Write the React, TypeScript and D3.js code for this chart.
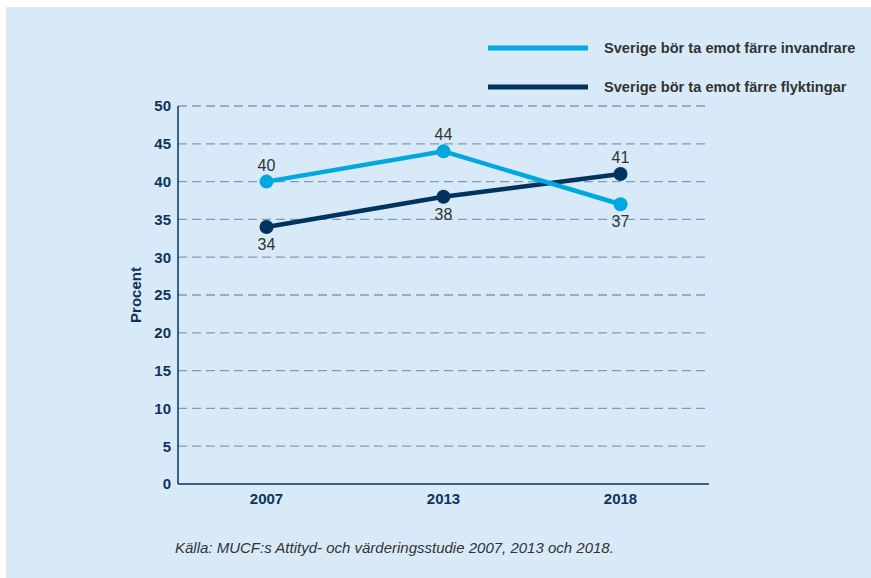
import { useEffect, useRef } from 'react';
import * as d3 from 'd3';

const years = ['2007', '2013', '2018'];
const invandrare = [40, 44, 37];
const flyktingar = [34, 38, 41];
const yTicks = [0, 5, 10, 15, 20, 25, 30, 35, 40, 45, 50];
const seriesNames = ['Sverige bör ta emot färre invandrare', 'Sverige bör ta emot färre flyktingar'];
const source = 'Källa: MUCF:s Attityd- och värderingsstudie 2007, 2013 och 2018.';

const W = 871;
const H = 578;
const LIGHT = '#00a8e1';
const DARK = '#00335e';
const AXIS = '#0d355c';
const TEXT = '#333333';
const FONT = '"Liberation Sans", Arial, sans-serif';

export default function App() {
  const svgRef = useRef<SVGSVGElement>(null);

  useEffect(() => {
    const svg = d3.select(svgRef.current);
    svg.selectAll('*').remove();

    // panel background
    svg.append('rect')
      .attr('x', 6).attr('y', 7)
      .attr('width', W - 6).attr('height', H - 7)
      .attr('fill', '#d8eaf8');

    const left = 178, right = 709, top = 106, bottom = 484;

    const x = d3.scaleBand().domain(years).range([left, right]);
    const y = d3.scaleLinear().domain([0, 50]).range([bottom, top]);
    const cx = (d: string) => x(d)! + x.bandwidth() / 2;

    // dashed grid
    svg.append('g')
      .selectAll('line')
      .data(yTicks.filter(t => t > 0))
      .join('line')
      .attr('x1', left).attr('x2', right)
      .attr('y1', d => y(d)).attr('y2', d => y(d))
      .attr('stroke', '#7d9bbb')
      .attr('stroke-width', 1.3)
      .attr('stroke-dasharray', '9,5');

    // axes
    svg.append('line')
      .attr('x1', left).attr('x2', left)
      .attr('y1', top).attr('y2', bottom)
      .attr('stroke', AXIS).attr('stroke-width', 1.5);
    svg.append('line')
      .attr('x1', left).attr('x2', right)
      .attr('y1', bottom).attr('y2', bottom)
      .attr('stroke', AXIS).attr('stroke-width', 1.5);

    svg.append('g')
      .selectAll('text')
      .data(yTicks)
      .join('text')
      .attr('x', left - 7)
      .attr('y', d => y(d))
      .attr('dy', '0.36em')
      .attr('text-anchor', 'end')
      .attr('font-family', FONT)
      .attr('font-weight', 'bold')
      .attr('font-size', 15)
      .attr('fill', AXIS)
      .text(d => d);

    svg.append('g')
      .selectAll('text')
      .data(years)
      .join('text')
      .attr('x', d => cx(d))
      .attr('y', bottom + 20)
      .attr('text-anchor', 'middle')
      .attr('font-family', FONT)
      .attr('font-weight', 'bold')
      .attr('font-size', 15)
      .attr('fill', AXIS)
      .text(d => d);

    svg.append('text')
      .attr('transform', `translate(141, ${(top + bottom) / 2}) rotate(-90)`)
      .attr('text-anchor', 'middle')
      .attr('font-family', FONT)
      .attr('font-weight', 'bold')
      .attr('font-size', 15)
      .attr('fill', AXIS)
      .text('Procent');

    const line = d3.line<number>()
      .x((_, i) => cx(years[i]))
      .y(d => y(d));

    const series = [
      { values: flyktingar, color: DARK, above: [false, false, true] },
      { values: invandrare, color: LIGHT, above: [true, true, false] },
    ];

    series.forEach(s => {
      svg.append('path')
        .datum(s.values)
        .attr('d', line)
        .attr('fill', 'none')
        .attr('stroke', s.color)
        .attr('stroke-width', 4.5);
      svg.append('g')
        .selectAll('circle')
        .data(s.values)
        .join('circle')
        .attr('cx', (_, i) => cx(years[i]))
        .attr('cy', d => y(d))
        .attr('r', 7)
        .attr('fill', s.color);
      svg.append('g')
        .selectAll('text')
        .data(s.values)
        .join('text')
        .attr('x', (_, i) => cx(years[i]))
        .attr('y', (d, i) => y(d) + (s.above[i] ? -11 : 23))
        .attr('text-anchor', 'middle')
        .attr('font-family', FONT)
        .attr('font-size', 16)
        .attr('fill', TEXT)
        .text(d => d);
    });

    // legend
    const legend = svg.append('g');
    [LIGHT, DARK].forEach((c, i) => {
      const ly = 48 + i * 39;
      legend.append('line')
        .attr('x1', 488).attr('x2', 588)
        .attr('y1', ly).attr('y2', ly)
        .attr('stroke', c).attr('stroke-width', 5);
      legend.append('text')
        .attr('x', 604).attr('y', ly)
        .attr('dy', '0.35em')
        .attr('font-family', FONT)
        .attr('font-weight', 'bold')
        .attr('font-size', 14.6)
        .attr('fill', TEXT)
        .text(seriesNames[i]);
    });

    svg.append('text')
      .attr('x', 175).attr('y', 553)
      .attr('font-family', FONT)
      .attr('font-style', 'italic')
      .attr('font-size', 15)
      .attr('fill', TEXT)
      .text(source);
  }, []);

  return (
    <div style={{ position: 'fixed', left: 0, top: 0 }}>
      <svg ref={svgRef} width={W} height={H} style={{ display: 'block', background: '#fff' }} />
    </div>
  );
}
